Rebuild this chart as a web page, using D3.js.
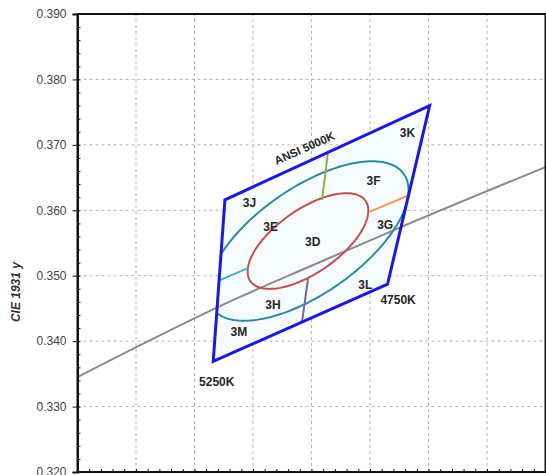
<!DOCTYPE html>
<html>
<head>
<meta charset="utf-8">
<script src="https://cdn.jsdelivr.net/npm/d3@7"></script>
<style>
  html, body { margin: 0; padding: 0; background: #fff; }
  svg { display: block; }
  text { font-family: "Liberation Sans", Arial, sans-serif; }
</style>
</head>
<body>
<svg id="chart" width="546" height="475"></svg>
<script>
// ---------- data ----------
const xDomain = [0.325, 0.365];
const yDomain = [0.320, 0.390];
const xGridValues = [0.330, 0.335, 0.340, 0.345, 0.350, 0.355, 0.360];
const yTickValues = [0.320, 0.330, 0.340, 0.350, 0.360, 0.370, 0.380, 0.390];
const yTickLabels = ["0.320", "0.330", "0.340", "0.350", "0.360", "0.370", "0.380", "0.390"];
const yAxisTitle = "CIE 1931 y";

// ANSI 5000K quadrangle corners (x, y)
const quadX = [0.3376, 0.3551, 0.3515, 0.3366];
const quadY = [0.3616, 0.3760, 0.3487, 0.3369];

// Planckian locus
const planckX = [0.3250, 0.3387, 0.3451, 0.3526, 0.3650];
const planckY = [0.3345, 0.3466, 0.3516, 0.3574, 0.3666];

// MacAdam ellipse (1-step) for 5000K centre
const ellipseCenter = [0.3447, 0.3553];
const macAdamA = 0.00274, macAdamB = 0.00118, macAdamTheta = 59.62;
const ellipseSteps = [5, 3];
const ellipseColors = ["#2f8aa0", "#c0504d"];

// sub-bin separator lines [x1, y1, x2, y2]
const sepNames = ["top", "right", "bottom", "left"];
const sepX1 = [0.34590, 0.35000, 0.34470, 0.33718];
const sepY1 = [0.36156, 0.35980, 0.34948, 0.34933];
const sepX2 = [0.34641, 0.35325, 0.34419, 0.33957];
const sepY2 = [0.36898, 0.36225, 0.34294, 0.35116];
const sepColors = ["#8fb050", "#f79646", "#7a64a0", "#4bacc6"];

// labels
const labelText = ["3K", "3F", "3J", "3E", "3G", "3D", "3H", "3M", "3L", "4750K", "5250K"];
const labelX = [0.3532, 0.3503, 0.3397, 0.3415, 0.3513, 0.3451, 0.3417, 0.3388, 0.3496, 0.3524, 0.3369];
const labelY = [0.3718, 0.3645, 0.3611, 0.3574, 0.3577, 0.3551, 0.3455, 0.3414, 0.3486, 0.3463, 0.3337];
const ansiLabel = "ANSI 5000K";
const ansiLabelPos = [0.3444, 0.3695];

// ---------- layout ----------
const svg = d3.select("#chart");
const x = d3.scaleLinear().domain(xDomain).range([77.5, 545.5]);
const y = d3.scaleLinear().domain(yDomain).range([472, 14]);

// grid
const grid = svg.append("g");
grid.selectAll("line.vx").data(xGridValues).join("line")
  .attr("x1", d => x(d)).attr("x2", d => x(d))
  .attr("y1", y(yDomain[0])).attr("y2", y(yDomain[1]))
  .attr("stroke", "#b4b4b4").attr("stroke-width", 1).attr("stroke-dasharray", "3,3");
grid.selectAll("line.hy").data(yTickValues.slice(1, -1)).join("line")
  .attr("y1", d => y(d)).attr("y2", d => y(d))
  .attr("x1", x(xDomain[0])).attr("x2", x(xDomain[1]))
  .attr("stroke", "#b4b4b4").attr("stroke-width", 1).attr("stroke-dasharray", "3,3");

// quad
const quadPts = quadX.map((v, i) => [x(v), y(quadY[i])]);
svg.append("clipPath").attr("id", "quadClip")
  .append("polygon").attr("points", quadPts.map(p => p.join(",")).join(" "));
svg.append("polygon").attr("points", quadPts.map(p => p.join(",")).join(" "))
  .attr("fill", "#f6fcfe").attr("stroke", "none");

// Planck locus
const line = d3.line().x(d => x(d[0])).y(d => y(d[1])).curve(d3.curveMonotoneX);
svg.append("clipPath").attr("id", "plotClip")
  .append("rect").attr("x", x(xDomain[0])).attr("y", y(yDomain[1]))
  .attr("width", x(xDomain[1]) - x(xDomain[0])).attr("height", y(yDomain[0]) - y(yDomain[1]));
svg.append("path").datum(planckX.map((v, i) => [v, planckY[i]]))
  .attr("d", line).attr("fill", "none").attr("stroke", "#8a8a8a").attr("stroke-width", 2)
  .attr("clip-path", "url(#plotClip)");

// ellipses
function ellipsePoints(steps) {
  const a = steps * macAdamA, b = steps * macAdamB, th = macAdamTheta * Math.PI / 180;
  return d3.range(0, 361, 2).map(deg => {
    const t = deg * Math.PI / 180;
    return [ellipseCenter[0] + a * Math.cos(th) * Math.cos(t) - b * Math.sin(th) * Math.sin(t),
            ellipseCenter[1] + a * Math.sin(th) * Math.cos(t) + b * Math.cos(th) * Math.sin(t)];
  });
}
const lineLin = d3.line().x(d => x(d[0])).y(d => y(d[1]));
ellipseSteps.forEach((s, i) => {
  svg.append("path").datum(ellipsePoints(s))
    .attr("d", lineLin).attr("fill", "none")
    .attr("stroke", ellipseColors[i]).attr("stroke-width", 2)
    .attr("clip-path", "url(#quadClip)");
});

// separators
svg.selectAll("line.sep").data(sepNames).join("line")
  .attr("x1", (d, i) => x(sepX1[i])).attr("y1", (d, i) => y(sepY1[i]))
  .attr("x2", (d, i) => x(sepX2[i])).attr("y2", (d, i) => y(sepY2[i]))
  .attr("stroke", (d, i) => sepColors[i]).attr("stroke-width", 2);

// quad outline
svg.append("polygon").attr("points", quadPts.map(p => p.join(",")).join(" "))
  .attr("fill", "none").attr("stroke", "#1a1ad8").attr("stroke-width", 3)
  .attr("stroke-linejoin", "miter");

// labels
svg.selectAll("text.lbl").data(labelText).join("text")
  .attr("x", (d, i) => x(labelX[i])).attr("y", (d, i) => y(labelY[i]))
  .attr("text-anchor", "middle").attr("dominant-baseline", "central")
  .attr("font-size", 12).attr("font-weight", "bold").attr("fill", "#262626")
  .text(d => d);
svg.append("text")
  .attr("transform", `translate(${x(ansiLabelPos[0])},${y(ansiLabelPos[1])}) rotate(-24)`)
  .attr("text-anchor", "middle").attr("dominant-baseline", "central")
  .attr("font-size", 11.5).attr("font-weight", "bold").attr("fill", "#262626")
  .text(ansiLabel);

// frame
svg.append("rect").attr("x", x(xDomain[0])).attr("y", y(yDomain[1]))
  .attr("width", x(xDomain[1]) - x(xDomain[0])).attr("height", y(yDomain[0]) - y(yDomain[1]))
  .attr("fill", "none").attr("stroke", "#111").attr("stroke-width", 2);

// y axis major ticks + labels
const yAxis = d3.axisLeft(y).tickValues(yTickValues)
  .tickFormat((d, i) => yTickLabels[i]).tickSize(5).tickPadding(6);
const gy = svg.append("g").attr("transform", `translate(${x(xDomain[0])},0)`).call(yAxis);
gy.select(".domain").attr("stroke", "#111").attr("stroke-width", 2);
gy.selectAll(".tick line").attr("stroke", "#111");
gy.selectAll(".tick text").attr("font-size", 12).attr("fill", "#444")
  .attr("font-family", "'Liberation Sans', Arial, sans-serif");

// y minor ticks (inside)
const yMinor = d3.axisRight(y).ticks(35).tickSize(3).tickFormat("");
const gym = svg.append("g").attr("transform", `translate(${x(xDomain[0])},0)`).call(yMinor);
gym.select(".domain").remove();
gym.selectAll(".tick line").attr("stroke", "#111");

// x minor ticks (inside)
const xMinor = d3.axisTop(x).ticks(40).tickSize(3).tickFormat("");
const gxm = svg.append("g").attr("transform", `translate(0,${y(yDomain[0])})`).call(xMinor);
gxm.select(".domain").remove();
gxm.selectAll(".tick line").attr("stroke", "#111");

// y title
svg.append("text")
  .attr("transform", `translate(16,${y(0.3475)}) rotate(-90)`)
  .attr("text-anchor", "middle").attr("dominant-baseline", "central")
  .attr("font-size", 12).attr("font-weight", "bold").attr("font-style", "italic")
  .attr("fill", "#333").text(yAxisTitle);
</script>
</body>
</html>
